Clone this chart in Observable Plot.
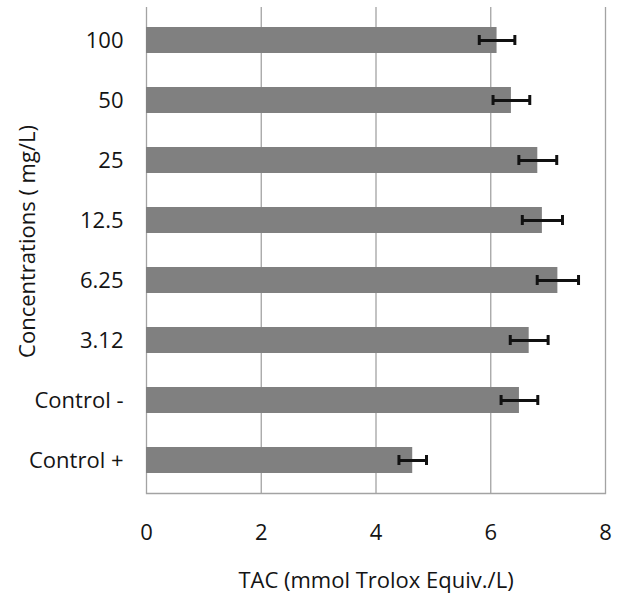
<!DOCTYPE html>
<html>
<head>
<meta charset="utf-8">
<script src="https://cdn.jsdelivr.net/npm/d3@7"></script>
<script src="https://cdn.jsdelivr.net/npm/@observablehq/plot@0.6"></script>
<style>
  html, body { margin: 0; padding: 0; background: #fff; }
</style>
</head>
<body>
<div id="chart"></div>
<script>
const categories = ["100", "50", "25", "12.5", "6.25", "3.12", "Control -", "Control +"];
const values = [6.11, 6.36, 6.82, 6.90, 7.17, 6.67, 6.50, 4.64];
const errors = [0.31, 0.32, 0.33, 0.35, 0.36, 0.33, 0.32, 0.24];
const xTicks = [0, 2, 4, 6, 8];

const data = categories.map((c, i) => ({cat: c, v: values[i], lo: values[i] - errors[i], hi: values[i] + errors[i]}));

const font = "'Open Sans', Lato, sans-serif";
const fs = 22;

const chart = Plot.plot({
  width: 623,
  height: 598,
  marginLeft: 146,
  marginRight: 18,
  marginTop: 7,
  marginBottom: 105,
  style: {fontFamily: font, fontSize: fs + "px", color: "#141414", background: "#fff"},
  x: {domain: [0, 8], ticks: xTicks},
  y: {domain: categories, paddingInner: 0.56, paddingOuter: 0.28},
  marks: [
    Plot.ruleX(xTicks, {stroke: "#a3a3a3", strokeWidth: 1.3}),
    Plot.frame({anchor: "bottom", stroke: "#a3a3a3", strokeWidth: 1.3}),
    Plot.barX(data, {y: "cat", x: "v", fill: "#808080"}),
    Plot.ruleY(data, {y: "cat", x1: "lo", x2: "hi", stroke: "#111", strokeWidth: 3}),
    Plot.tickX(data, {y: "cat", x: "lo", stroke: "#111", strokeWidth: 3, insetTop: 8, insetBottom: 8}),
    Plot.tickX(data, {y: "cat", x: "hi", stroke: "#111", strokeWidth: 3, insetTop: 8, insetBottom: 8}),
    Plot.axisX({ticks: xTicks, tickSize: 0, tickPadding: 31, label: null, fontSize: fs}),
    Plot.axisY({tickSize: 0, tickPadding: 23, label: null, fontSize: fs}),
    Plot.text(["Concentrations ( mg/L)"], {frameAnchor: "left", rotate: -90, dx: -119, dy: -9, textAnchor: "middle", lineAnchor: "middle", fontSize: fs, fill: "#141414"}),
    Plot.text(["TAC (mmol Trolox Equiv./L)"], {frameAnchor: "bottom", dy: 87, textAnchor: "middle", lineAnchor: "middle", fontSize: fs, fill: "#141414"})
  ]
});
document.getElementById("chart").appendChild(chart);
</script>
</body>
</html>
